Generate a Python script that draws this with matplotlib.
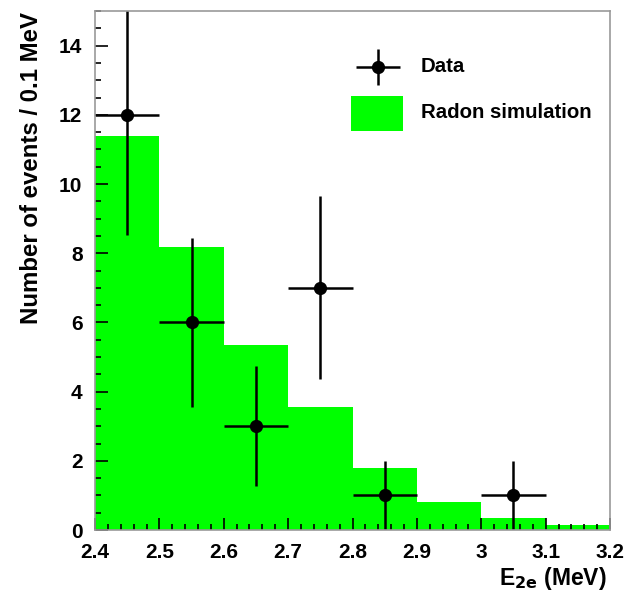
import matplotlib
matplotlib.use("Agg")
import matplotlib.pyplot as plt
from matplotlib.ticker import MultipleLocator
from matplotlib.patches import Rectangle

plt.rcParams['font.family'] = ['Liberation Sans', 'DejaVu Sans']
plt.rcParams['font.weight'] = 'bold'

# Radon simulation histogram (0.1 MeV bins)
bin_edges = [2.4, 2.5, 2.6, 2.7, 2.8, 2.9, 3.0, 3.1, 3.2]
sim_counts = [11.38, 8.17, 5.35, 3.55, 1.79, 0.82, 0.36, 0.14]

# Observed events
data_x = [2.45, 2.55, 2.65, 2.75, 2.85, 3.05]
data_y = [12, 6, 3, 7, 1, 1]
data_err = [3.46, 2.45, 1.73, 2.65, 1.0, 1.0]
data_xerr = [0.05, 0.05, 0.05, 0.05, 0.05, 0.05]

W, H = 627, 595
L, R, B, T = 95, 610, 530, 11

fig = plt.figure(figsize=(W / 100, H / 100), dpi=100)
ax = fig.add_axes([L / W, (H - B) / H, (R - L) / W, (B - T) / H])

widths = [b - a for a, b in zip(bin_edges[:-1], bin_edges[1:])]
ax.bar(bin_edges[:-1], sim_counts, width=widths, align='edge',
       color='#00ff00', edgecolor='none', linewidth=0, zorder=1)

ax.errorbar(data_x, data_y, yerr=data_err, xerr=data_xerr, fmt='o',
            color='black', ms=8.5, elinewidth=1.8, capsize=0, zorder=3)

ax.set_xlim(2.4, 3.2)
ax.set_ylim(0, 15)

ax.xaxis.set_major_locator(MultipleLocator(0.1))
ax.xaxis.set_minor_locator(MultipleLocator(0.02))
ax.yaxis.set_major_locator(MultipleLocator(2))
ax.yaxis.set_minor_locator(MultipleLocator(0.5))

ax.tick_params(which='both', direction='in', top=False, right=False,
               labelsize=15, width=1.2, color='black')
ax.tick_params(which='major', length=9)
ax.tick_params(which='minor', length=4.5)
ax.tick_params(axis='x', which='major', pad=9)
ax.tick_params(axis='y', which='major', pad=9)

ax.set_xticks([2.4, 2.5, 2.6, 2.7, 2.8, 2.9, 3.0, 3.1, 3.2])
ax.set_xticklabels(['2.4', '2.5', '2.6', '2.7', '2.8', '2.9', '3', '3.1', '3.2'])
for lab in ax.get_xticklabels() + ax.get_yticklabels():
    lab.set_fontweight('bold')

for s in ax.spines.values():
    s.set_color('#999999')
    s.set_linewidth(1.2)
    s.set_zorder(4)

fig.text(32 / W, 1 - 12 / H, 'Number of events / 0.1 MeV', fontsize=17.3,
         fontweight='bold', rotation=90, ha='center', va='top')

fig.text(607 / W, 1 - 579 / H, r'E$_{\mathbf{2e}}$ (MeV)', fontsize=16.5,
         fontweight='bold', ha='right', va='center')

# Legend
def ax_x(px):
    return (px - L) / (R - L)

def ax_y(py):
    return (B - py) / (B - T)

ax.errorbar([ax_x(378)], [ax_y(67)], xerr=[22 / (R - L)], yerr=[18 / (B - T)],
            fmt='o', ms=8.5, color='black', elinewidth=1.8, capsize=0,
            transform=ax.transAxes, zorder=5, clip_on=False)
ax.add_patch(Rectangle((ax_x(351), ax_y(131)), 52 / (R - L), 35 / (B - T),
                       transform=ax.transAxes, facecolor='#00ff00',
                       edgecolor='none', zorder=5))
ax.text(ax_x(421), ax_y(66), 'Data', transform=ax.transAxes,
        fontsize=14.7, fontweight='bold', va='center', ha='left')
ax.text(ax_x(421), ax_y(113), 'Radon simulation', transform=ax.transAxes,
        fontsize=14.7, fontweight='bold', va='center', ha='left')

fig.savefig('out.png', dpi=100)
